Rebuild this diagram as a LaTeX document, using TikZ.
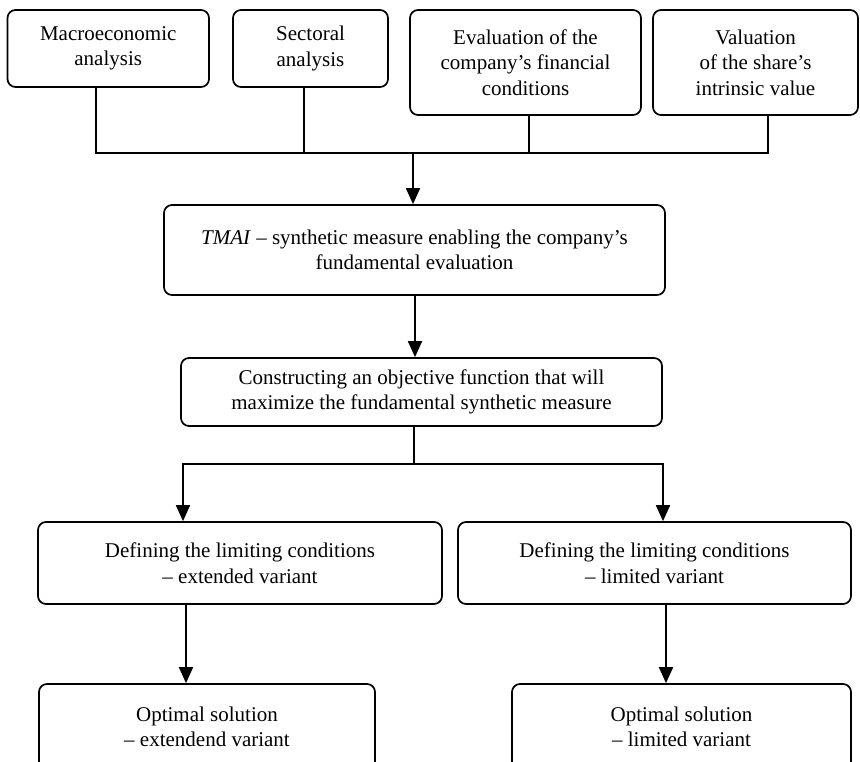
\documentclass[tikz,border=0pt]{standalone}
\usepackage{fontspec}
\setmainfont{Liberation Serif}
\usetikzlibrary{arrows.meta}
\begin{document}
\begin{tikzpicture}[x=1pt,y=-1pt,
  box/.style={draw,line width=1.7pt,rounded corners=8pt,align=center,inner sep=0pt,
    font=\fontsize{21pt}{25.5pt}\selectfont},
  ln/.style={line width=1.7pt},
  arr/.style={line width=1.8pt,-{Triangle[length=16pt,width=14pt]}}]
\useasboundingbox (0,0) rectangle (860,762);
\clip (0,0) rectangle (860,762);
\node[box,minimum width=201.5pt,minimum height=77pt] (m1) at (108.25,48.5) {Macroeconomic\\analysis};
\node[box,minimum width=155pt,minimum height=77pt] (m2) at (310.5,48.5) {Sectoral\\analysis};
\node[box,minimum width=231pt,minimum height=105pt] (m3) at (525.5,62.5) {Evaluation of the\\company’s financial\\conditions};
\node[box,minimum width=205pt,minimum height=105pt] (m4) at (755.5,62.5) {Valuation\\of the share’s\\intrinsic value};
\node[box,minimum width=501pt,minimum height=90pt] (t) at (414.5,250) {\textit{TMAI} – synthetic measure enabling the company’s\\fundamental evaluation};
\node[box,minimum width=481pt,minimum height=68pt] (c) at (421.5,392) {Constructing an objective function that will\\maximize the fundamental synthetic measure};
\node[box,minimum width=404pt,minimum height=82pt] (dl) at (240,563) {Defining the limiting conditions\\– extended variant};
\node[box,minimum width=393pt,minimum height=82pt] (dr) at (654.5,563) {Defining the limiting conditions\\– limited variant};
\node[box,minimum width=336pt,minimum height=86pt] (ol) at (207,727) {Optimal solution\\– extendend variant};
\node[box,minimum width=339pt,minimum height=86pt] (or) at (681.5,727) {Optimal solution\\– limited variant};
\coordinate (bus) at (413,153);
\coordinate (split) at (414,464);
\draw[ln] ([xshift=-12.25pt]m1.south) |- ([xshift=12.5pt]m4.south |- bus) -- ([xshift=12.5pt]m4.south);
\draw[ln] ([xshift=-6.5pt]m2.south) -- ([xshift=-6.5pt]m2.south |- bus);
\draw[ln] ([xshift=3.5pt]m3.south) -- ([xshift=3.5pt]m3.south |- bus);
\draw[arr] (bus) -- (bus |- t.north);
\draw[arr] ([xshift=0.5pt]t.south) -- ([xshift=0.5pt]t.south |- c.north);
\draw[ln] (c.south -| split) -- (split);
\draw[arr] (split) -| ([xshift=-57pt]dl.north);
\draw[arr] (split) -| ([xshift=8.5pt]dr.north);
\draw[arr] ([xshift=-54pt]dl.south) -- ([xshift=-54pt]dl.south |- ol.north);
\draw[arr] ([xshift=11.5pt]dr.south) -- ([xshift=11.5pt]dr.south |- or.north);
\end{tikzpicture}
\end{document}
